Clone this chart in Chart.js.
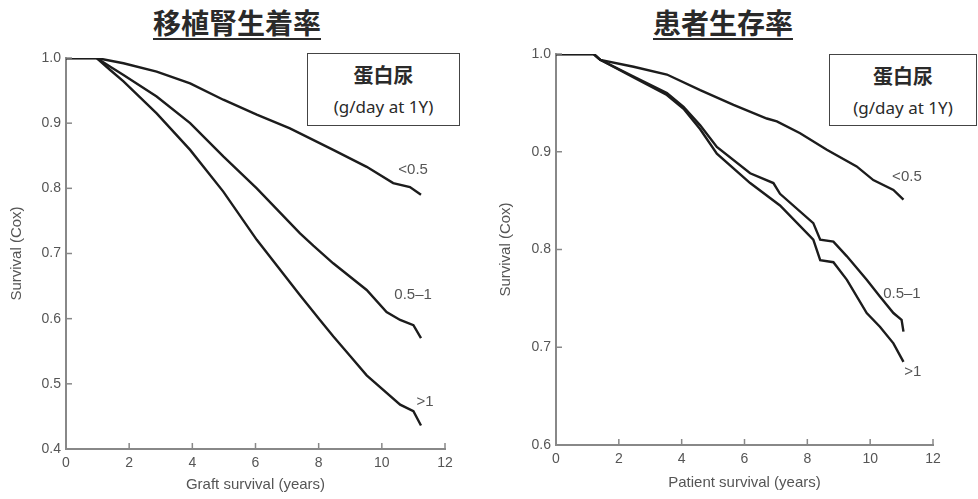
<!DOCTYPE html>
<html>
<head>
<meta charset="utf-8">
<script src="https://cdn.jsdelivr.net/npm/chart.js@4/dist/chart.umd.min.js"></script>
<style>
  body { margin: 0; background: #fff; width: 978px; height: 499px; overflow: hidden; position: relative; font-family: "Liberation Sans", Arial, sans-serif; }
  canvas { position: absolute; top: 0; }
  .title { position: absolute; top: 2px; font-family: "Noto Sans CJK JP", sans-serif; font-weight: bold; font-size: 28px; line-height: 40px; color: #2a2a2a; text-decoration: underline; text-decoration-thickness: 2px; text-underline-offset: 4px; transform: translateX(-50%); white-space: nowrap; }
  .box { position: absolute; border: 1.5px solid #444; box-sizing: border-box; text-align: center; color: #2a2a2a; background: #fff; }
  .box .a { font-family: "Noto Sans CJK JP", sans-serif; font-weight: bold; font-size: 20px; line-height: 26px; margin-top: 8px; }
  .box .b { font-family: "Noto Sans", sans-serif; font-size: 17px; line-height: 26px; margin-top: 6px; }
</style>
</head>
<body>
<div class="title" style="left:237px">移植腎生着率</div>
<div class="title" style="left:723px">患者生存率</div>
<canvas id="graft" width="489" height="499" style="left:0"></canvas>
<canvas id="patient" width="489" height="499" style="left:489px"></canvas>
<div class="box" style="left:307px; top:53px; width:153px; height:73px"><div class="a">蛋白尿</div><div class="b">(g/day at 1Y)</div></div>
<div class="box" style="left:829px; top:54px; width:148px; height:72px"><div class="a">蛋白尿</div><div class="b">(g/day at 1Y)</div></div>
<script>
// 移植腎生着率 (graft survival)
const graftYearsLow = [0, 0.97, 1.82, 2.87, 3.93, 4.98, 6.04, 7.09, 8.46, 9.52, 10.36, 10.89, 11.24];
const graftSurvLow = [1.0, 1.0, 0.992, 0.979, 0.961, 0.936, 0.913, 0.892, 0.859, 0.833, 0.808, 0.802, 0.790];
const graftYearsMid = [0, 0.97, 1.39, 1.82, 2.87, 3.93, 4.98, 6.04, 7.41, 7.83, 8.46, 9.52, 10.15, 10.58, 11.0, 11.24];
const graftSurvMid = [1.0, 1.0, 0.987, 0.974, 0.941, 0.900, 0.849, 0.800, 0.731, 0.712, 0.685, 0.644, 0.610, 0.598, 0.590, 0.570];
const graftYearsHigh = [0, 0.97, 1.39, 1.82, 2.87, 3.93, 4.98, 6.04, 7.41, 8.04, 8.46, 8.99, 9.52, 10.58, 11.0, 11.24];
const graftSurvHigh = [1.0, 1.0, 0.982, 0.964, 0.915, 0.859, 0.795, 0.721, 0.636, 0.598, 0.573, 0.543, 0.513, 0.468, 0.458, 0.436];

// 患者生存率 (patient survival)
const patYearsLow = [0, 1.2, 1.41, 2.47, 3.53, 4.59, 5.65, 6.71, 7.03, 7.77, 8.62, 9.57, 10.10, 10.74, 11.06];
const patSurvLow = [1.0, 1.0, 0.994, 0.987, 0.979, 0.963, 0.948, 0.934, 0.931, 0.919, 0.902, 0.885, 0.871, 0.861, 0.851];
const patYearsMid = [0, 1.2, 1.41, 2.47, 3.53, 4.06, 4.59, 5.12, 6.18, 6.92, 7.13, 8.19, 8.41, 8.83, 9.26, 9.89, 10.31, 10.74, 11.0, 11.06];
const patSurvMid = [1.0, 1.0, 0.994, 0.977, 0.960, 0.946, 0.927, 0.905, 0.878, 0.868, 0.857, 0.827, 0.810, 0.808, 0.793, 0.769, 0.752, 0.735, 0.728, 0.716];
const patYearsHigh = [0, 1.2, 1.41, 2.47, 3.53, 4.06, 4.59, 5.12, 6.18, 7.13, 8.19, 8.41, 8.83, 9.26, 9.89, 10.31, 10.74, 11.06];
const patSurvHigh = [1.0, 1.0, 0.994, 0.976, 0.958, 0.944, 0.923, 0.898, 0.868, 0.845, 0.810, 0.789, 0.787, 0.769, 0.735, 0.721, 0.704, 0.685];

const groupNames = ['<0.5', '0.5–1', '>1'];
const xTicks = [0, 2, 4, 6, 8, 10, 12];

Chart.defaults.font.family = '"Liberation Sans", Arial, sans-serif';
Chart.defaults.color = '#555';

function toPoints(xs, ys) {
    return xs.map((x, i) => ({ x: x, y: ys[i] }));
}

// inward tick marks + curve labels
const extras = {
    id: 'extras',
    afterDraw(chart, args, opts) {
        const ctx = chart.ctx;
        const xs = chart.scales.x, ys = chart.scales.y;
        ctx.save();
        ctx.strokeStyle = '#888';
        ctx.lineWidth = 1.5;
        xs.ticks.forEach(t => {
            const px = xs.getPixelForValue(t.value);
            ctx.beginPath();
            ctx.moveTo(px, ys.bottom);
            ctx.lineTo(px, ys.bottom - 6);
            ctx.stroke();
        });
        ys.ticks.forEach(t => {
            const py = ys.getPixelForValue(t.value);
            ctx.beginPath();
            ctx.moveTo(xs.left, py);
            ctx.lineTo(xs.left + 6, py);
            ctx.stroke();
        });
        ctx.fillStyle = '#555';
        ctx.font = '15px "Liberation Sans", Arial, sans-serif';
        ctx.textAlign = 'center';
        ctx.textBaseline = 'middle';
        opts.labels.forEach(l => {
            ctx.fillText(l.text, xs.getPixelForValue(l.x), ys.getPixelForValue(l.y));
        });
        ctx.restore();
    }
};

function makeChart(id, series, yMin, xTitle, yWidth, xHeight, padTop, padRight, xTitlePad, labels) {
    const ctx = document.getElementById(id).getContext('2d');
    return new Chart(ctx, {
        type: 'line',
        data: {
            datasets: series.map((s, i) => ({
                label: groupNames[i],
                data: s,
                borderColor: '#1c1c1c',
                borderWidth: 2.4,
                pointRadius: 0,
                tension: 0,
                fill: false
            }))
        },
        options: {
            responsive: false,
            animation: false,
            layout: { padding: { top: padTop, right: padRight, left: 0, bottom: 0 } },
            plugins: {
                legend: { display: false },
                tooltip: { enabled: false },
                extras: { labels: labels }
            },
            scales: {
                x: {
                    type: 'linear',
                    min: 0,
                    max: 12,
                    afterBuildTicks: s => { s.ticks = xTicks.map(v => ({ value: v })); },
                    grid: { display: false, drawTicks: false },
                    border: { color: '#888', width: 2 },
                    ticks: { padding: 6, font: { size: 14 }, color: '#555' },
                    title: { display: true, text: xTitle, color: '#555', font: { size: 15 }, padding: { top: 2, bottom: xTitlePad } },
                    afterFit: s => { s.height = xHeight; }
                },
                y: {
                    type: 'linear',
                    min: yMin,
                    max: 1.0,
                    ticks: { stepSize: 0.1, padding: 5, font: { size: 14 }, color: '#555', callback: v => v.toFixed(1) },
                    grid: { display: false, drawTicks: false },
                    border: { color: '#888', width: 2 },
                    title: { display: true, text: 'Survival (Cox)', color: '#555', font: { size: 15 }, padding: { top: 8, bottom: 0 } },
                    afterFit: s => { s.width = yWidth; }
                }
            }
        },
        plugins: [extras]
    });
}

makeChart('graft',
    [toPoints(graftYearsLow, graftSurvLow), toPoints(graftYearsMid, graftSurvMid), toPoints(graftYearsHigh, graftSurvHigh)],
    0.4, 'Graft survival (years)', 66, 50, 58, 44, 5,
    [{ text: '<0.5', x: 10.99, y: 0.828 }, { text: '0.5–1', x: 10.99, y: 0.636 }, { text: '>1', x: 11.37, y: 0.472 }]);

makeChart('patient',
    [toPoints(patYearsLow, patSurvLow), toPoints(patYearsMid, patSurvMid), toPoints(patYearsHigh, patSurvHigh)],
    0.6, 'Patient survival (years)', 67, 54, 54, 45, 7,
    [{ text: '<0.5', x: 11.17, y: 0.874 }, { text: '0.5–1', x: 11.01, y: 0.755 }, { text: '>1', x: 11.36, y: 0.675 }]);
</script>
</body>
</html>
